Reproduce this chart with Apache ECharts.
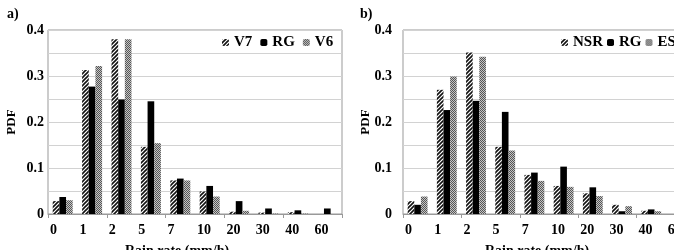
<!DOCTYPE html>
<html>
<head>
    <meta charset="UTF-8">
    <title>Rain rate PDF</title>
</head>
<body>
    <div id="_Epdf"></div>
</body>
<style type="text/css">
    body{margin:0;background:#fff;}
    div{height: 250px;width: 674px;margin: 0;}
</style>
<script type="text/javascript" src="https://cdn.jsdelivr.net/npm/echarts@6/dist/echarts.min.js"></script>
<script type="text/javascript">
// bins and tick labels (ticks sit on bin edges)
var bins = ['0-1', '1-2', '2-5', '5-7', '7-10', '10-20', '20-30', '30-40', '40-60', '60+'];
var tickLabels = ['0', '1', '2', '5', '7', '10', '20', '30', '40', '60'];

// panel a
var aV7 = [0.028, 0.313, 0.380, 0.146, 0.073, 0.049, 0.005, 0.003, 0.004, 0.000];
var aRG = [0.037, 0.277, 0.249, 0.245, 0.077, 0.061, 0.028, 0.012, 0.008, 0.012];
var aV6 = [0.030, 0.322, 0.380, 0.154, 0.073, 0.038, 0.007, 0.001, 0.001, 0.000];

// panel b
var bNSR = [0.028, 0.270, 0.351, 0.146, 0.085, 0.061, 0.045, 0.020, 0.007, 0.000];
var bRG  = [0.020, 0.226, 0.246, 0.222, 0.090, 0.103, 0.058, 0.006, 0.010, 0.000];
var bES  = [0.038, 0.299, 0.342, 0.138, 0.072, 0.059, 0.039, 0.017, 0.006, 0.000];

var FONT = '"Liberation Serif", "Times New Roman", serif';

function hatch() {
    var c = document.createElement('canvas'); c.width = c.height = 4;
    var g = c.getContext('2d');
    g.fillStyle = '#fff'; g.fillRect(0, 0, 4, 4);
    g.strokeStyle = '#111'; g.lineWidth = 1.6;
    g.beginPath();
    g.moveTo(0, 4); g.lineTo(4, 0);
    g.moveTo(-1, 1); g.lineTo(1, -1);
    g.moveTo(3, 5); g.lineTo(5, 3);
    g.stroke();
    return c;
}
function checker() {
    var c = document.createElement('canvas'); c.width = c.height = 2;
    var g = c.getContext('2d');
    g.fillStyle = '#c4c4c4'; g.fillRect(0, 0, 2, 2);
    g.fillStyle = '#555'; g.fillRect(0, 0, 1, 1); g.fillRect(1, 1, 1, 1);
    return c;
}
var hatchFill = { image: hatch(), repeat: 'repeat' };
var checkFill = { image: checker(), repeat: 'repeat' };

var Epdf = echarts.init(document.getElementById('_Epdf'));

function catAxis(i) {
    return { type: 'category', gridIndex: i, data: bins, position: 'bottom', boundaryGap: true,
        axisLine: { lineStyle: { color: '#999' } },
        axisTick: { show: true, length: 4, lineStyle: { color: '#999' } },
        axisLabel: { show: false } };
}
function labAxis(i) {
    return { type: 'value', gridIndex: i, min: 0, max: 10, interval: 1, position: 'bottom',
        axisLine: { show: false }, axisTick: { show: false }, splitLine: { show: false },
        axisLabel: { margin: 9, align: 'left', padding: [0, 0, 0, 2], color: '#000', fontFamily: FONT,
            fontWeight: 'bold', fontSize: 14, showMinLabel: true, showMaxLabel: true,
            formatter: function (v) { return tickLabels[v] !== undefined ? tickLabels[v] : ''; } } };
}
function valAxis(i, gap) {
    return { type: 'value', gridIndex: i, min: 0, max: 0.4, interval: 0.05,
        axisLine: { show: false }, axisTick: { show: false },
        splitLine: { lineStyle: { color: '#d2d2d2' } },
        axisLabel: { margin: gap, color: '#000', fontFamily: FONT, fontWeight: 'bold', fontSize: 14,
            formatter: function (v) {
                var k = Math.round(v * 100);
                if (k % 10 !== 0) return '';
                return k === 0 ? '0' : (k / 100).toFixed(1);
            } } };
}
function bar(name, data, xi, yi, fill) {
    return { name: name, type: 'bar', xAxisIndex: xi, yAxisIndex: yi, data: data,
        barGap: '0%', barCategoryGap: '32%', itemStyle: { color: fill } };
}
var legText = { fontFamily: FONT, fontWeight: 'bold', fontSize: 15, color: '#000' };

var option = {
    animation: false,
    grid: [
        { left: 48, top: 30, width: 294, height: 184, show: true, borderColor: '#999', borderWidth: 1,
          outerBoundsMode: 'none' },
        { left: 403, top: 30, width: 292, height: 184, show: true, borderColor: '#999', borderWidth: 1,
          outerBoundsMode: 'none' }
    ],
    xAxis: [catAxis(0), labAxis(0), catAxis(1), labAxis(1)],
    yAxis: [valAxis(0, 4), valAxis(1, 11)],
    legend: [
        { data: ['V7', 'RG', 'V6'], left: 222, top: 35, width: 200, itemWidth: 7, itemHeight: 7, itemGap: 8,
          padding: 0, textStyle: legText },
        { data: ['NSR', 'RG', 'ESR'], left: 561, top: 35, width: 200, itemWidth: 7, itemHeight: 7, itemGap: 4,
          padding: 0, textStyle: legText }
    ],
    graphic: [
        { type: 'text', left: 7, top: 7, style: { text: 'a)', font: 'bold 14px ' + FONT, fill: '#000' } },
        { type: 'text', left: 360, top: 7, style: { text: 'b)', font: 'bold 14px ' + FONT, fill: '#000' } },
        { type: 'text', x: 12, y: 122, rotation: Math.PI / 2,
          style: { text: 'PDF', font: 'bold 13px ' + FONT, fill: '#000', align: 'center', verticalAlign: 'middle' } },
        { type: 'text', x: 366, y: 122, rotation: Math.PI / 2,
          style: { text: 'PDF', font: 'bold 13px ' + FONT, fill: '#000', align: 'center', verticalAlign: 'middle' } },
        { type: 'text', x: 177, y: 251,
          style: { text: 'Rain rate (mm/h)', font: 'bold 14px ' + FONT, fill: '#000', align: 'center', verticalAlign: 'middle' } },
        { type: 'text', x: 537, y: 251,
          style: { text: 'Rain rate (mm/h)', font: 'bold 14px ' + FONT, fill: '#000', align: 'center', verticalAlign: 'middle' } }
    ],
    series: [
        bar('V7', aV7, 0, 0, hatchFill),
        bar('RG', aRG, 0, 0, '#000'),
        bar('V6', aV6, 0, 0, checkFill),
        bar('NSR', bNSR, 2, 1, hatchFill),
        bar('RG', bRG, 2, 1, '#000'),
        bar('ESR', bES, 2, 1, checkFill)
    ]
};
Epdf.setOption(option);
</script>
</html>
